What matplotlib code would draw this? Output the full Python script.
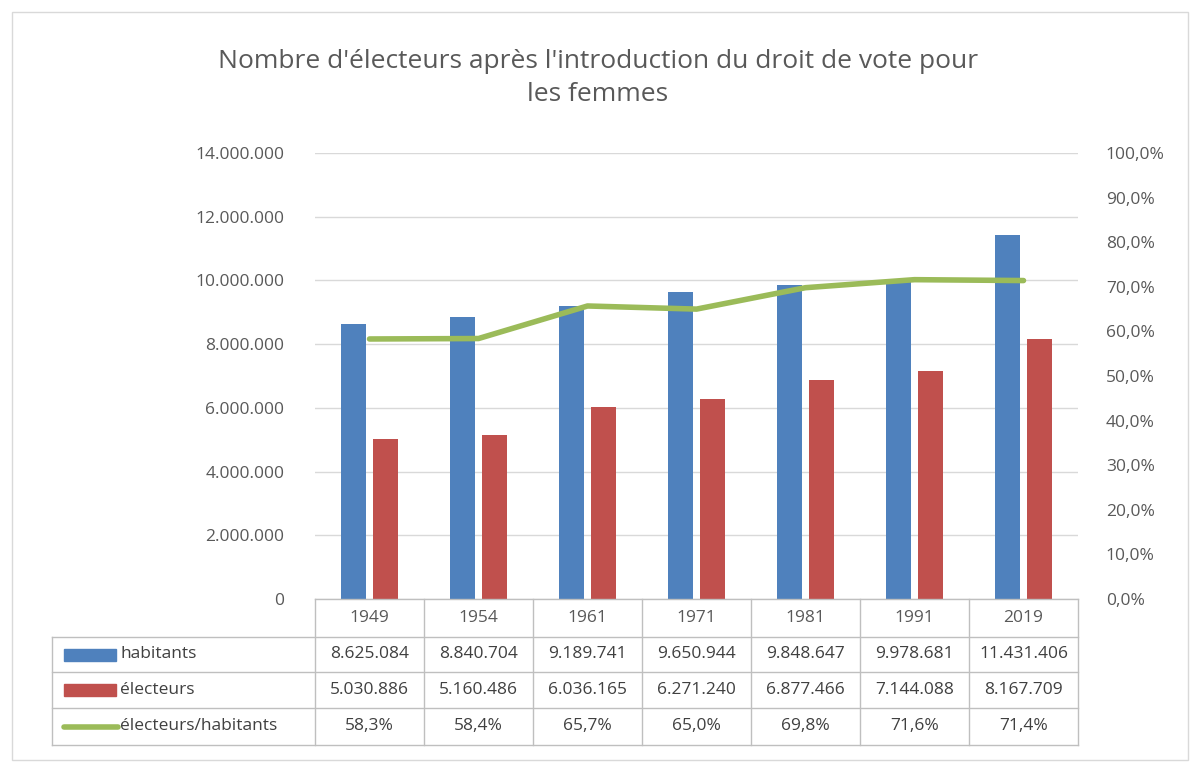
import matplotlib
matplotlib.use("Agg")
import matplotlib.pyplot as plt
from matplotlib.patches import Rectangle
from matplotlib.lines import Line2D
from matplotlib.ticker import FuncFormatter

years = ["1949", "1954", "1961", "1971", "1981", "1991", "2019"]
habitants = [8625084, 8840704, 9189741, 9650944, 9848647, 9978681, 11431406]
electeurs = [5030886, 5160486, 6036165, 6271240, 6877466, 7144088, 8167709]
ratio = [58.3, 58.4, 65.7, 65.0, 69.8, 71.6, 71.4]
series_names = ["habitants", "électeurs", "électeurs/habitants"]

BLUE, RED, GREEN = "#4f81bd", "#c0504d", "#9bbb59"
TXT = "#595959"
plt.rcParams['font.family'] = ['Open Sans', 'DejaVu Sans']

W, H = 1200, 773
fig = plt.figure(figsize=(12, 7.73), dpi=100)

def fx(px): return px / W
def fy(py): return 1 - py / H

L, R, T, B = 315, 1078, 153, 599
ax = fig.add_axes([fx(L), fy(B), fx(R) - fx(L), fy(T) - fy(B)])
n = len(years)
x = list(range(n))
bw = 25 / 109
off = 16 / 109
ax.bar([i - off for i in x], habitants, bw, color=BLUE, zorder=3)
ax.bar([i + off for i in x], electeurs, bw, color=RED, zorder=3)
ax.set_xlim(-0.5, n - 0.5)
ax.set_ylim(0, 14000000)
ax.set_yticks(range(0, 14000001, 2000000))
ax.yaxis.set_major_formatter(FuncFormatter(lambda v, p: f"{int(v):,}".replace(",", ".")))
ax.grid(axis='y', color="#d9d9d9", lw=1, zorder=0)
ax.set_xticks([])
for s in ax.spines.values():
    s.set_visible(False)
ax.tick_params(axis='y', length=0, labelsize=12.5, labelcolor=TXT, pad=22)

ax2 = ax.twinx()
ax2.plot(x, ratio, color=GREEN, lw=4, zorder=4, solid_capstyle='round')
ax2.set_ylim(0, 100)
ax2.set_yticks(range(0, 101, 10))
ax2.yaxis.set_major_formatter(FuncFormatter(lambda v, p: f"{v:.1f}%".replace(".", ",")))
for s in ax2.spines.values():
    s.set_visible(False)
ax2.tick_params(axis='y', length=0, labelsize=12.5, labelcolor=TXT, pad=20)

fig.text(fx(598), fy(78), "Nombre d'électeurs après l'introduction du droit de vote pour\nles femmes",
         ha='center', va='center', fontsize=19, color=TXT, linespacing=1.45)

# table
tb = fig.add_axes([0, 0, 1, 1], facecolor='none')
tb.set_xlim(0, W); tb.set_ylim(H, 0); tb.axis('off')
lc = "#bfbfbf"
rows = [599, 637, 672, 708, 745]
cols = [L + 109 * i for i in range(n + 1)]
cols[-1] = R
tb.plot([52, R], [745, 745], color=lc, lw=1)
for yy in rows[1:-1]:
    tb.plot([52, R], [yy, yy], color=lc, lw=1)
tb.plot([L, R], [599, 599], color=lc, lw=1)
tb.plot([52, 52], [637, 745], color=lc, lw=1)
for cx in cols:
    tb.plot([cx, cx], [599, 745], color=lc, lw=1)
for i, yv in enumerate(years):
    tb.text((cols[i] + cols[i + 1]) / 2, 618, yv, ha='center', va='center', fontsize=12.5, color=TXT)
vals = [[f"{v:,}".replace(",", ".") for v in habitants],
        [f"{v:,}".replace(",", ".") for v in electeurs],
        [f"{v:.1f}%".replace(".", ",") for v in ratio]]
for r in range(3):
    yc = (rows[r + 1] + rows[r + 2]) / 2
    for i in range(n):
        tb.text((cols[i] + cols[i + 1]) / 2, yc, vals[r][i], ha='center', va='center',
                fontsize=12.5, color="#404040")
    tb.text(120, yc, series_names[r], ha='left', va='center', fontsize=12.5, color="#404040")
    if r < 2:
        tb.add_patch(Rectangle((64, yc - 6), 52, 12, color=[BLUE, RED][r]))
    else:
        tb.plot([64, 118], [yc, yc], color=GREEN, lw=4, solid_capstyle='round')

tb.add_patch(Rectangle((12, 12), 1176, 748, fill=False, ec="#d9d9d9", lw=1))
fig.savefig("out.png", dpi=100, facecolor='white')
